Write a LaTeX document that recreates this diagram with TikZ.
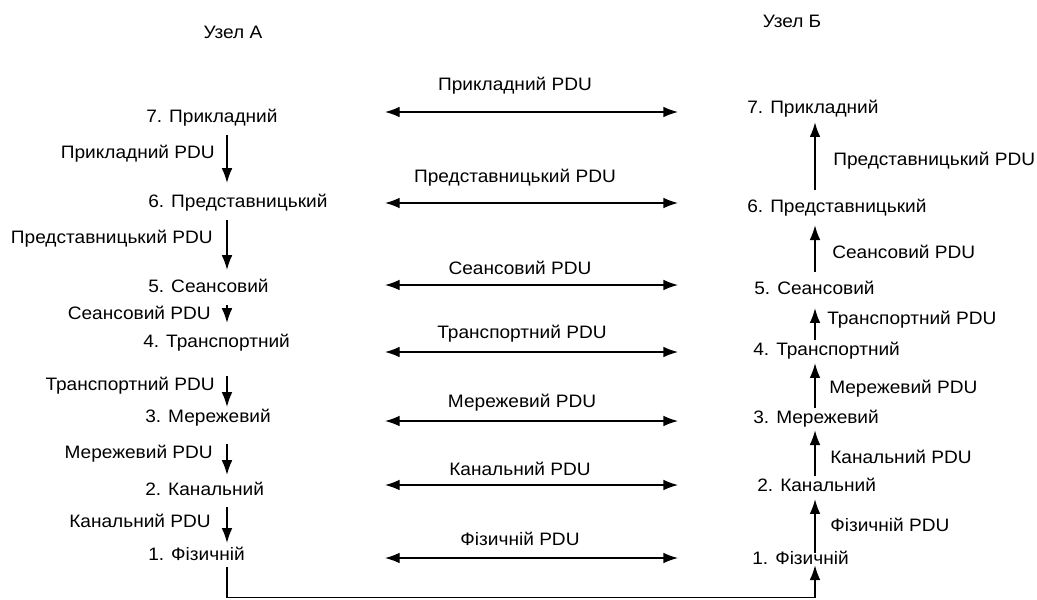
\documentclass[tikz,border=0pt]{standalone}
\usepackage{fontspec}
\setmainfont[FakeStretch=1.06]{Liberation Sans}
\usetikzlibrary{arrows.meta}

\begin{document}
\begin{tikzpicture}[x=0.75pt,y=-0.75pt,
  every node/.style={font=\fontsize{13.5}{16}\selectfont, inner sep=0pt},
  layer/.style={anchor=west, text height=10pt, text depth=3pt},
  lleft/.style={anchor=east},
  lright/.style={anchor=west},
  pdu/.style={-{Latex[length=11pt,width=8pt]}, line width=1pt},
  peer/.style={{Latex[length=11pt,width=8pt]}-{Latex[length=11pt,width=8pt]}, line width=1pt}]

\useasboundingbox (0,0) rectangle (1037,599);

% column axes and the bottom medium
\coordinate (xA) at (227,0);
\coordinate (xB) at (815,0);
\coordinate (medium) at (0,597.5);

% headers
\node (hA) at (233,32) {Узел А};
\node (hB) at (792,21) {Узел Б};

% stack of node A
\node[layer] (a7) at (146,118) {7. Прикладний};
\node[layer] (a6) at (148,203) {6. Представницький};
\node[layer] (a5) at (148,288) {5. Сеансовий};
\node[layer] (a4) at (143,343) {4. Транспортний};
\node[layer] (a3) at (145,418) {3. Мережевий};
\node[layer] (a2) at (145,491) {2. Канальний};
\node[layer] (a1) at (148,556) {1. Фізичній};

% stack of node B
\node[layer] (b7) at (747,109) {7. Прикладний};
\node[layer] (b6) at (747,208) {6. Представницький};
\node[layer] (b5) at (754,290) {5. Сеансовий};
\node[layer] (b4) at (753,351) {4. Транспортний};
\node[layer] (b3) at (753,419) {3. Мережевий};
\node[layer] (b2) at (757,487) {2. Канальний};
\node[layer] (b1) at (752,560) {1. Фізичній};

% downward flow in node A
\draw[pdu, shorten <=6.3pt,  shorten >=8.4pt] (a7.south -| xA) -- (a6.north -| xA);
\draw[pdu, shorten <=6.3pt,  shorten >=6.9pt] (a6.south -| xA) -- (a5.north -| xA);
\draw[pdu, shorten <=6.3pt,  shorten >=8.4pt] (a5.south -| xA) -- (a4.north -| xA);
\draw[pdu, shorten <=18.3pt, shorten >=1.7pt] (a4.south -| xA) -- (a3.north -| xA);
\draw[pdu, shorten <=13pt,   shorten >=5.4pt] (a3.south -| xA) -- (a2.north -| xA);
\draw[pdu, shorten <=5.5pt,  shorten >=3.2pt] (a2.south -| xA) -- (a1.north -| xA);

\node[lleft] (la7) at (215,154) {Прикладний PDU};
\node[lleft] (la6) at (213,239) {Представницький PDU};
\node[lleft] (la5) at (211,313) {Сеансовий PDU};
\node[lleft] (la4) at (215,386) {Транспортний PDU};
\node[lleft] (la3) at (213,454) {Мережевий PDU};
\node[lleft] (la2) at (211,521) {Канальний PDU};

% upward flow in node B
\draw[pdu, shorten <=6.9pt, shorten >=3.3pt] (b6.north -| xB) -- (b7.south -| xB);
\draw[pdu, shorten <=6.9pt, shorten >=6.3pt] (b5.north -| xB) -- (b6.south -| xB);
\draw[pdu, shorten <=1.7pt, shorten >=7pt]   (b4.north -| xB) -- (b5.south -| xB);
\draw[pdu, shorten <=1.7pt, shorten >=2.5pt] (b3.north -| xB) -- (b4.south -| xB);
\draw[pdu, shorten <=1.7pt, shorten >=1.8pt] (b2.north -| xB) -- (b3.south -| xB);
\draw[pdu, shorten <=-1.3pt, shorten >=2.5pt] (b1.north -| xB) -- (b2.south -| xB);

\node[lright] (lb6) at (833,161) {Представницький PDU};
\node[lright] (lb5) at (832,252) {Сеансовий PDU};
\node[lright] (lb4) at (827,320) {Транспортний PDU};
\node[lright] (lb3) at (829,389) {Мережевий PDU};
\node[lright] (lb2) at (830,457) {Канальний PDU};
\node[lright] (lb1) at (830,525) {Фізичній PDU};

% physical medium between the two nodes
\draw[pdu, shorten <=1.8pt, shorten >=-2.7pt]
  (a1.south -| xA) -- (xA |- medium) -- (xB |- medium) -- (b1.south -| xB);

% peer-to-peer exchanges
\coordinate (p7l) at (385,112); \coordinate (p7r) at (678,112);
\coordinate (p6l) at (385,203); \coordinate (p6r) at (678,203);
\coordinate (p5l) at (385,285); \coordinate (p5r) at (678,285);
\coordinate (p4l) at (385,352); \coordinate (p4r) at (678,352);
\coordinate (p3l) at (385,421); \coordinate (p3r) at (678,421);
\coordinate (p2l) at (385,485); \coordinate (p2r) at (678,485);
\coordinate (p1l) at (385,558); \coordinate (p1r) at (678,558);

\draw[peer] (p7l) -- (p7r);
\draw[peer] (p6l) -- (p6r);
\draw[peer] (p5l) -- (p5r);
\draw[peer] (p4l) -- (p4r);
\draw[peer] (p3l) -- (p3r);
\draw[peer] (p2l) -- (p2r);
\draw[peer] (p1l) -- (p1r);

\node (t7) at (515,86)  {Прикладний PDU};
\node (t6) at (515,178) {Представницький PDU};
\node (t5) at (520,268) {Сеансовий PDU};
\node (t4) at (522,334) {Транспортний PDU};
\node (t3) at (522,403) {Мережевий PDU};
\node (t2) at (520,469) {Канальний PDU};
\node (t1) at (520,539) {Фізичній PDU};
\end{tikzpicture}
\end{document}
